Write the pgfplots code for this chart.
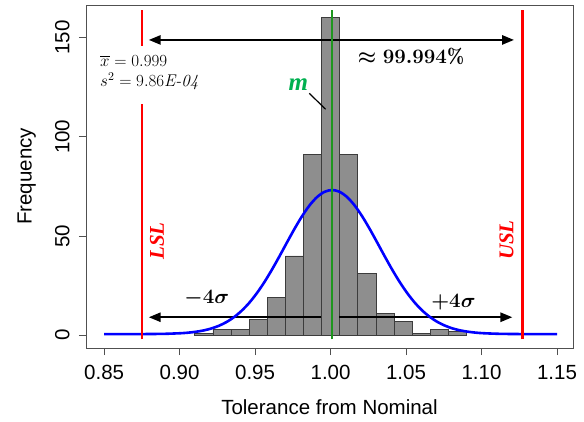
\RequirePackage{fix-cm}
\documentclass[border=0pt]{standalone}
\usepackage{amsmath}
\usepackage{fontspec}
\usepackage{pgfplots}
\pgfplotsset{compat=1.18}
\usetikzlibrary{arrows.meta}
\newfontfamily\arial{Liberation Sans}
\newfontfamily\tnr{Liberation Serif}
\newcommand\fbig{\fontsize{20.5}{23}\selectfont}
\newcommand\fsl{\tnr\bfseries\itshape\fontsize{21}{24}\selectfont}
\newcommand\fm{\tnr\bfseries\itshape\fontsize{25}{28}\selectfont}
\newcommand\fsmall{\fontsize{17}{20}\selectfont}
\newcommand\fax{\arial\fontsize{20.5}{24}\selectfont}
\definecolor{barfill}{RGB}{142,142,142}
\definecolor{baredge}{RGB}{60,60,60}
\definecolor{lgreen}{RGB}{30,150,30}
\definecolor{mgreen}{RGB}{0,176,80}
\definecolor{boxcol}{RGB}{80,80,80}
\tikzset{
  headR/.style={-{Triangle[length=12pt,width=9pt]}},
  headLR/.style={{Triangle[length=12pt,width=9pt]}-{Triangle[length=12pt,width=9pt]}},
}
\begin{document}
\begin{tikzpicture}
\begin{axis}[
  scale only axis, width=487pt, height=343pt,
  xmin=0.838, xmax=1.1606, ymin=-6.4, ymax=166.4,
  axis line style={boxcol, line width=0.8pt},
  tick style={boxcol, line width=0.8pt},
  tick align=outside, tick pos=left, major tick length=7pt,
  xtick={0.85,0.9,0.95,1,1.05,1.1,1.15},
  xticklabels={0.85,0.90,0.95,1.00,1.05,1.10,1.15},
  ytick={0,50,100,150}, yticklabels={0,50,100,150},
  /pgf/number format/assume math mode=true,
  ticklabel style={font=\fax},
  xticklabel shift=7pt,
  yticklabel shift=6pt,
  yticklabel style={rotate=90, anchor=south},
  xlabel={Tolerance from Nominal}, ylabel={Frequency},
  label style={font=\fax},
  xlabel style={at={(axis description cs:0.5,-0.1711)}, anchor=center},
  ylabel style={at={(axis description cs:-0.1218,0.5)}, anchor=center},
]
\coordinate (ll) at (rel axis cs:0,0);
\coordinate (ur) at (rel axis cs:1,1);
\coordinate (cA) at (axis cs:1.0533,140.4);
\coordinate (cB) at (axis cs:0.918,18.6);
\coordinate (cC) at (axis cs:1.0814,16.9);
\coordinate (cD) at (axis cs:0.885,47.5);
\coordinate (cE) at (axis cs:1.1166,48);
\coordinate (cF) at (axis cs:0.9786,126.5);
\coordinate (cG) at (axis cs:0.9859,121.9);
\coordinate (cK) at (axis cs:0.9967,113.9);
\coordinate (cH) at (axis cs:0.8473,132.4);
\coordinate (wA) at (axis cs:0.846,116.5);
\coordinate (wB) at (axis cs:0.906,145.7);
\addplot[ybar interval, fill=barfill, draw=baredge, line width=0.6pt] coordinates {
 (0.910,1) (0.922,3) (0.934,3) (0.946,8) (0.958,19) (0.970,40) (0.982,91)
 (0.994,160) (1.006,91) (1.018,31) (1.030,11) (1.042,7) (1.054,1) (1.066,3)
 (1.078,2) (1.090,0)};
\addplot[black, line width=2.5pt, headLR] coordinates {(0.8795,148.8) (1.1216,148.8)};
\addplot[black, line width=2.5pt, headR] coordinates {(0.9937,9.1) (0.8795,9.1)};
\addplot[black, line width=2.5pt, headR] coordinates {(1.0056,9.1) (1.1205,9.1)};
\addplot[blue, line width=2.6pt, smooth] coordinates {
 (0.850,0.60) (0.871,0.61) (0.881,0.65) (0.891,0.76) (0.901,1.06) (0.906,1.35)
 (0.911,1.80) (0.916,2.46) (0.921,3.42) (0.926,4.79) (0.931,6.65) (0.936,9.12)
 (0.941,12.30) (0.946,16.25) (0.951,21.04) (0.956,26.60) (0.961,32.85) (0.966,39.61)
 (0.971,46.60) (0.976,53.48) (0.981,59.87) (0.986,65.37) (0.991,69.61) (0.996,72.28)
 (1.001,73.20) (1.006,72.28) (1.011,69.61) (1.016,65.37) (1.021,59.87) (1.026,53.48)
 (1.031,46.60) (1.036,39.61) (1.041,32.85) (1.046,26.60) (1.051,21.04) (1.056,16.25)
 (1.061,12.30) (1.066,9.12) (1.071,6.65) (1.076,4.79) (1.081,3.42) (1.086,2.46)
 (1.091,1.80) (1.096,1.35) (1.101,1.06) (1.111,0.76) (1.121,0.65) (1.131,0.61)
 (1.150,0.60)};
\addplot[red, line width=2.6pt] coordinates {(0.875,-2) (0.875,164)};
\addplot[red, line width=2.6pt] coordinates {(1.127,-2) (1.127,164)};
\addplot[lgreen, line width=2.2pt] coordinates {(1.001,-2) (1.001,164)};
\end{axis}
\fill[white] (wA) rectangle (wB);
\path (cH) node[anchor=west, inner sep=0pt] {\fsmall\begin{tabular}{@{}l@{}}$\overline{x} = 0.999$\\$s^2 = 9.86\textit{E-04}$\end{tabular}};
\path (cA) node {\fbig $\boldsymbol{\approx 99.994\%}$};
\path (cB) node {\fbig $\boldsymbol{-4\sigma}$};
\path (cC) node {\fbig $\boldsymbol{+4\sigma}$};
\path (cD) node[red, rotate=90] {\fsl LSL};
\path (cE) node[red, rotate=90] {\fsl USL};
\path (cF) node[mgreen] {\fm m};
\draw[black, line width=1.2pt] (cG) -- (cK);
\pgfresetboundingbox
\path ([shift={(-86pt,-73pt)}]ll) rectangle ([shift={(11pt,5pt)}]ur);
\end{tikzpicture}
\end{document}
